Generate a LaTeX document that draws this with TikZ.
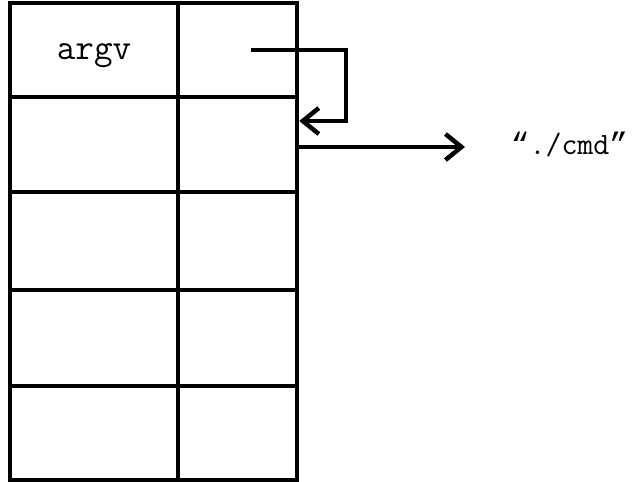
\documentclass[tikz,border=0pt]{standalone}
\usepackage{fontspec}
\newfontfamily\quotefont{Liberation Mono}
\usetikzlibrary{arrows.meta}
\begin{document}
\begin{tikzpicture}[x=1bp,y=-1bp,
  cellL/.style={draw,line width=4.5bp,minimum width=168bp,inner sep=0pt},
  cellR/.style={draw,line width=4.5bp,minimum width=119bp,inner sep=0pt},
  arr/.style={line width=4.5bp,-{Straight Barb[length=16bp,width=26bp,line width=4.5bp]}},
  txt/.style={inner sep=0pt,font=\ttfamily\fontsize{36bp}{40bp}\selectfont},
  lbl/.style={inner sep=0pt,font=\ttfamily\fontsize{31bp}{36bp}\selectfont}]
\useasboundingbox (0,0) rectangle (632,482);
\node[cellL,minimum height=94bp] (c11) at (94,50) {};
\node[cellR,minimum height=94bp] (c12) at (237.5,50) {};
\node[cellL,minimum height=95bp] (c21) at (94,144.5) {};
\node[cellR,minimum height=95bp] (c22) at (237.5,144.5) {};
\node[cellL,minimum height=98bp] (c31) at (94,241) {};
\node[cellR,minimum height=98bp] (c32) at (237.5,241) {};
\node[cellL,minimum height=96bp] (c41) at (94,338) {};
\node[cellR,minimum height=96bp] (c42) at (237.5,338) {};
\node[cellL,minimum height=94bp] (c51) at (94,433) {};
\node[cellR,minimum height=94bp] (c52) at (237.5,433) {};
\node[txt,anchor=base] (argv) at (94,60) {argv};
\node[lbl,anchor=base] (cmd) at (569.5,155) {{\quotefont“}./cmd{\quotefont”}};
\coordinate (p1) at (251,50);
\coordinate (b1) at (346,50);
\coordinate (b2) at (346,121);
\draw[arr,line join=miter] (p1) -- (b1) -- (b2) -- (c22.east |- b2);
\draw[arr] (c22.east |- 0,147) -- (465,147);
\end{tikzpicture}
\end{document}
